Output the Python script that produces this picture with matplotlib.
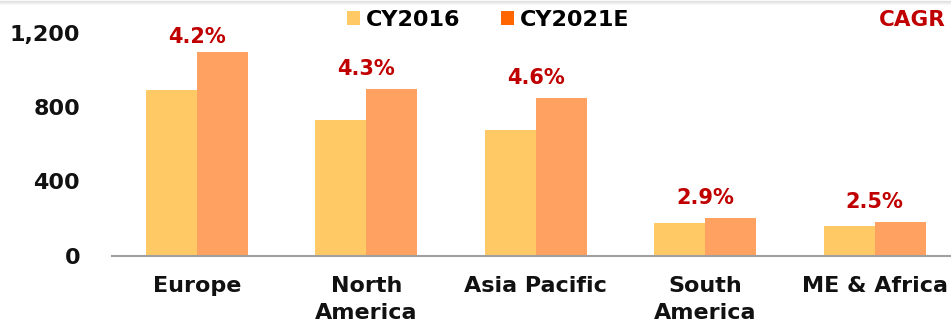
import numpy as np
import matplotlib.pyplot as plt
from matplotlib.patches import Patch

regions = ["Europe", "North\nAmerica", "Asia Pacific", "South\nAmerica", "ME & Africa"]
cy2016 = [895, 730, 680, 175, 160]
cy2021e = [1100, 900, 850, 205, 183]
cagr = ["4.2%", "4.3%", "4.6%", "2.9%", "2.5%"]
y_ticks = [0, 400, 800, 1200]

c16 = "#FFC966"
c21 = "#FFA160"
c21_key = "#FF6600"
red = "#C00000"

plt.rcParams['font.family'] = ['DejaVu Sans']

fig = plt.figure(figsize=(9.51, 3.33), dpi=100)
ax = fig.add_axes([112 / 951, 1 - 255.5 / 333, 1 - 112 / 951, 222 / 333])

x = np.arange(len(regions))
w = 0.30
ax.bar(x - w / 2, cy2016, width=w, color=c16, zorder=2)
ax.bar(x + w / 2, cy2021e, width=w, color=c21, zorder=2)

# growth labels sit above the taller bar of each pair
for xi, v, lab in zip(x, cy2021e, cagr):
    ax.annotate(lab, (xi, min(v, 1075)), xytext=(0, 10), textcoords='offset points',
                ha='center', va='baseline', color=red, fontsize=15,
                fontweight='bold', annotation_clip=False)

ax.set_xlim(-0.5, 4.45)
ax.set_ylim(0, 1200)
ax.set_yticks(y_ticks)
ax.set_yticklabels([f"{t:,}" for t in y_ticks])
ax.set_xticks(x)
ax.set_xticklabels(regions, linespacing=1.4)
ax.tick_params(axis='both', length=0, labelsize=16)
ax.tick_params(axis='y', pad=23)
ax.tick_params(axis='x', pad=15)
for lab in ax.get_xticklabels() + ax.get_yticklabels():
    lab.set_fontweight('bold')
    lab.set_color('#111111')

for s in ['top', 'right', 'left']:
    ax.spines[s].set_visible(False)
ax.spines['bottom'].set_color('#A0A0A0')
ax.spines['bottom'].set_linewidth(1.5)
ax.spines['bottom'].set_zorder(3)

handles = [Patch(facecolor=c16, label="CY2016"),
           Patch(facecolor=c21_key, label="CY2021E")]
fig.legend(handles=handles, loc='center', bbox_to_anchor=(488 / 951, 1 - 20 / 333),
           ncol=2, frameon=False, handlelength=0.6, handleheight=0.6,
           handletextpad=0.25, columnspacing=1.8, borderpad=0,
           prop={'weight': 'bold', 'size': 16})

fig.text(946 / 951, 1 - 20 / 333, "CAGR", ha='right', va='center', color=red,
         fontsize=15.5, fontweight='bold')

# faint shadow along the top edge
for i, a in enumerate([0.10, 0.07, 0.04, 0.02]):
    fig.add_artist(plt.Line2D([0, 1], [1 - (i + 0.5) / 333] * 2, color='black',
                              alpha=a, linewidth=1, transform=fig.transFigure))

fig.savefig("out.png", dpi=100)
